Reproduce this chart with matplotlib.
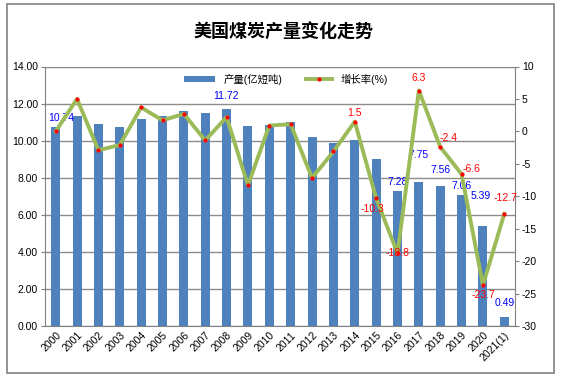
import numpy as np
import matplotlib.pyplot as plt
from matplotlib.patches import Rectangle

plt.rcParams['font.family'] = ['Liberation Sans', 'Noto Sans CJK SC']

# data
years = ['2000', '2001', '2002', '2003', '2004', '2005', '2006', '2007', '2008', '2009',
         '2010', '2011', '2012', '2013', '2014', '2015', '2016', '2017', '2018', '2019',
         '2020', '2021(1)']
output = [10.74, 11.32, 10.92, 10.72, 11.15, 11.32, 11.62, 11.48, 11.72, 10.77,
          10.86, 10.99, 10.18, 9.86, 10.02, 8.99, 7.28, 7.75, 7.56, 7.06,
          5.39, 0.49]
growth = [0.0, 5.0, -2.9, -2.1, 3.7, 1.7, 2.7, -1.4, 2.2, -8.3,
          0.9, 1.1, -7.2, -3.1, 1.5, -10.3, -18.8, 6.3, -2.4, -6.6,
          -23.7, -12.7]

# which points carry labels, with pixel offsets (dx, dy)
bar_labels = {0: (6, 9), 8: (-1, 13), 16: (0, 9), 17: (0, 27), 18: (0, 16),
              19: (0, 9), 20: (-2, 30), 21: (0, 14)}
growth_labels = {14: (0, 9), 15: (-4, -11), 16: (0, 0), 17: (0, 13), 18: (8, 9),
                 19: (10, 5), 20: (0, -10), 21: (1, 16)}

fig = plt.figure(figsize=(5.64, 3.83), dpi=100)
fig.patches.append(Rectangle((6.5 / 564, 10 / 383), 547.5 / 564, 369 / 383,
                             transform=fig.transFigure, fill=False,
                             edgecolor='#808080', linewidth=1.2))

ax = fig.add_axes([45 / 564, 57 / 383, 470 / 564, 259.5 / 383])
x = np.arange(len(years))
ax.bar(x, output, width=0.42, color='#4F81BD', zorder=2, label='产量(亿短吨)')
ax.set_xlim(-0.5, len(years) - 0.5)
ax.set_ylim(0, 14)
ax.set_yticks(np.arange(0, 15, 2))
ax.set_yticklabels([f'{v:.2f}' for v in np.arange(0, 15, 2)], fontsize=7.5)
ax.set_xticks(x)
ax.set_xticklabels(years, rotation=45, ha='right', rotation_mode='anchor',
                   fontsize=7.5)
ax.yaxis.grid(True, color='#8c8c8c', linewidth=1)
ax.set_axisbelow(True)
for s in ['left', 'bottom']:
    ax.spines[s].set_color('#808080')
ax.spines['top'].set_color('#8c8c8c')
ax.spines['right'].set_color('#808080')
ax.tick_params(axis='x', length=0, pad=3)
ax.tick_params(axis='y', length=3, color='#808080', pad=2)

for i, (dx, dy) in bar_labels.items():
    ax.annotate(f'{output[i]:.2f}', (x[i], output[i]), xytext=(dx, dy),
                textcoords='offset pixels', ha='center', va='center',
                color='#0000FF', fontsize=7.5, zorder=5)

ax2 = ax.twinx()
ax2.plot(x, growth, color='#9BBB59', linewidth=2.8, marker='o', markersize=2,
         markerfacecolor='#FF0000', markeredgecolor='#FF0000', zorder=3,
         label='增长率(%)')
ax2.set_ylim(-30, 10)
ax2.set_yticks(np.arange(-30, 11, 5))
ax2.set_yticklabels([str(v) for v in range(-30, 11, 5)], fontsize=7.5)
ax2.tick_params(axis='y', length=3, color='#808080', pad=2)
for s in ax2.spines.values():
    s.set_visible(False)

for i, (dx, dy) in growth_labels.items():
    ax2.annotate(f'{growth[i]}', (x[i], growth[i]), xytext=(dx, dy),
                 textcoords='offset pixels', ha='center', va='center',
                 color='#FF0000', fontsize=7.5, zorder=5)

ax.legend(loc='upper left', bbox_to_anchor=(0.28, 1.0), frameon=False,
          fontsize=7.5, handlelength=3, handleheight=0.6, borderaxespad=0.3)
ax2.legend(loc='upper left', bbox_to_anchor=(0.54, 1.0), frameon=False,
           fontsize=7.5, handlelength=2.5, borderaxespad=0.3)

fig.text(283 / 564, 1 - 32 / 383, '美国煤炭产量变化走势', ha='center', va='center',
         fontsize=13, fontweight='bold', family=['Noto Sans CJK SC'])

plt.savefig('out.png', dpi=100)
